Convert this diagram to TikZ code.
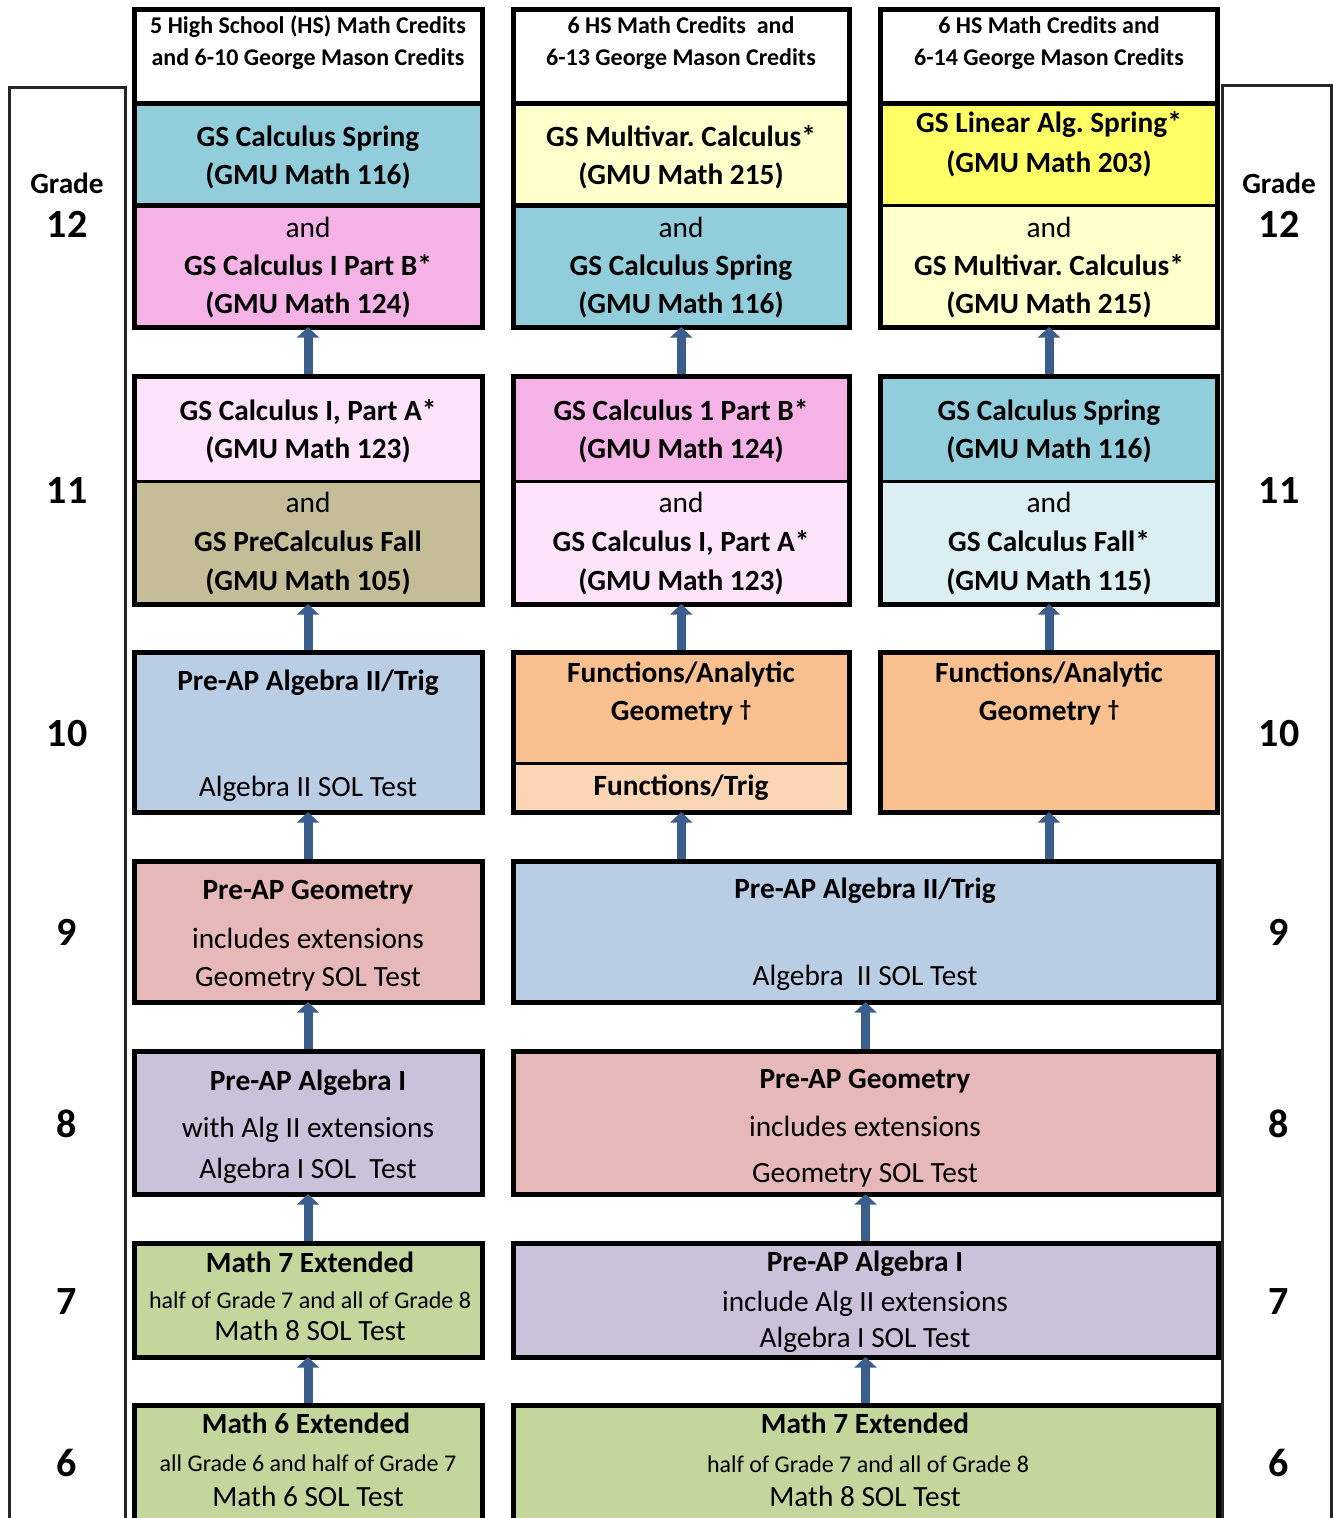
\documentclass[tikz,border=0pt]{standalone}
\usepackage{fontspec}
\setmainfont{Carlito}
\usetikzlibrary{arrows.meta,fit}
\definecolor{calcspring}{HTML}{92CDDC}
\definecolor{calcb}{HTML}{F5B2E6}
\definecolor{calca}{HTML}{FDE3FA}
\definecolor{precalc}{HTML}{C4BD97}
\definecolor{multivar}{HTML}{FFFFCC}
\definecolor{linalg}{HTML}{FFFF66}
\definecolor{calcfall}{HTML}{DAEEF3}
\definecolor{algtwo}{HTML}{B9CDE5}
\definecolor{funcgeo}{HTML}{F9C08F}
\definecolor{functrig}{HTML}{FCD5B5}
\definecolor{geompink}{HTML}{E6B9B8}
\definecolor{algone}{HTML}{CCC1DA}
\definecolor{mathext}{HTML}{C3D69B}
\definecolor{arrowblue}{HTML}{3B5E8C}
\tikzset{
    part/.style={inner sep=0pt, outer sep=0pt},
    course/.style={draw, line width=3.75pt, inner sep=0pt, outer sep=0pt},
    gradecol/.style={draw=black!85, line width=2.25pt, inner sep=0pt, outer sep=0pt},
    septhick/.style={line width=3.75pt},
    septhin/.style={line width=2.25pt},
    climb/.style={-{Triangle[width=16.5pt,length=8pt]}, line width=6.75pt, draw=arrowblue, fill=arrowblue, shorten <=1.8pt},
    hdr/.style={font=\fontsize{18}{20}\selectfont\bfseries, anchor=base, inner sep=0pt},
    small/.style={font=\fontsize{18}{20}\selectfont, anchor=base, inner sep=0pt},
    bigb/.style={font=\fontsize{22}{26}\selectfont\bfseries, anchor=base, inner sep=0pt},
    big/.style={font=\fontsize{22}{26}\selectfont, anchor=base, inner sep=0pt},
    gradeword/.style={font=\fontsize{22}{26}\selectfont\bfseries, anchor=base, inner sep=0pt},
    gradenum/.style={font=\fontsize{30}{34}\selectfont\bfseries, anchor=base, inner sep=0pt}
}
\newcommand{\daggermark}{\raisebox{3pt}{\fontsize{17}{17}\selectfont †}}
\frenchspacing
\begin{document}
        \begin{tikzpicture}[x=0.75pt, y=-0.75pt]
            \clip (0,0) rectangle (1333,1518);
            \node[gradecol, fit={(9.5,87) (125,1540)}] (leftcol) {};
            \node[gradecol, fit={(1222,85) (1331,1540)}] (rightcol) {};

            \node[part, fill=white, fit={(134,9.5) (482,103)}] (c1hd) {};
            \node[part, fill=calcspring, fit={(134,103) (482,205)}] (c1g12a) {};
            \node[part, fill=calcb, fit={(134,205) (482,327)}] (c1g12b) {};
            \draw[septhick] (c1g12a.north west) -- (c1g12a.north east);
            \draw[septhick] (c1g12b.north west) -- (c1g12b.north east);
            \node[course, fit={(134,9.5) (482,327)}] (c1g12) {};

            \node[part, fill=white, fit={(513,9.5) (849.5,103)}] (c2hd) {};
            \node[part, fill=multivar, fit={(513,103) (849.5,205)}] (c2g12a) {};
            \node[part, fill=calcspring, fit={(513,205) (849.5,327)}] (c2g12b) {};
            \draw[septhick] (c2g12a.north west) -- (c2g12a.north east);
            \draw[septhick] (c2g12b.north west) -- (c2g12b.north east);
            \node[course, fit={(513,9.5) (849.5,327)}] (c2g12) {};

            \node[part, fill=white, fit={(880.5,9.5) (1217.5,103)}] (c3hd) {};
            \node[part, fill=linalg, fit={(880.5,103) (1217.5,205)}] (c3g12a) {};
            \node[part, fill=multivar, fit={(880.5,205) (1217.5,327)}] (c3g12b) {};
            \draw[septhick] (c3g12a.north west) -- (c3g12a.north east);
            \draw[septhin] (c3g12b.north west) -- (c3g12b.north east);
            \node[course, fit={(880.5,9.5) (1217.5,327)}] (c3g12) {};

            \node[part, fill=calca, fit={(134,376) (482,481)}] (c1g11a) {};
            \node[part, fill=precalc, fit={(134,481) (482,604)}] (c1g11b) {};
            \draw[septhin] (c1g11b.north west) -- (c1g11b.north east);
            \node[course, fit={(134,376) (482,604)}] (c1g11) {};

            \node[part, fill=calcb, fit={(513,376) (849.5,481)}] (c2g11a) {};
            \node[part, fill=calca, fit={(513,481) (849.5,604)}] (c2g11b) {};
            \draw[septhin] (c2g11b.north west) -- (c2g11b.north east);
            \node[course, fit={(513,376) (849.5,604)}] (c2g11) {};

            \node[part, fill=calcspring, fit={(880.5,376) (1217.5,481)}] (c3g11a) {};
            \node[part, fill=calcfall, fit={(880.5,481) (1217.5,604)}] (c3g11b) {};
            \draw[septhin] (c3g11b.north west) -- (c3g11b.north east);
            \node[course, fit={(880.5,376) (1217.5,604)}] (c3g11) {};

            \node[course, fill=algtwo, fit={(134,652) (482,812)}] (c1g10) {};
            \node[part, fill=funcgeo, fit={(513,652) (849.5,763)}] (c2g10a) {};
            \node[part, fill=functrig, fit={(513,763) (849.5,812)}] (c2g10b) {};
            \draw[septhin] (c2g10b.north west) -- (c2g10b.north east);
            \node[course, fit={(513,652) (849.5,812)}] (c2g10) {};
            \node[course, fill=funcgeo, fit={(880.5,652) (1217.5,812)}] (c3g10) {};

            \node[course, fill=geompink, fit={(134,861) (482,1002)}] (c1g9) {};
            \node[course, fill=algtwo, fit={(513,861) (1218,1002)}] (wg9) {};
            \node[course, fill=algone, fit={(134,1051) (482,1194)}] (c1g8) {};
            \node[course, fill=geompink, fit={(513,1051) (1218,1194)}] (wg8) {};
            \node[course, fill=mathext, fit={(134,1243) (482,1357)}] (c1g7) {};
            \node[course, fill=algone, fit={(513,1243) (1218,1357)}] (wg7) {};
            \node[course, fill=mathext, fit={(134,1405) (482,1540)}] (c1g6) {};
            \node[course, fill=mathext, fit={(513,1405) (1218,1540)}] (wg6) {};

            \draw[climb] (c1g6.north) -- (c1g7.south);
            \draw[climb] (c1g7.north) -- (c1g8.south);
            \draw[climb] (c1g8.north) -- (c1g9.south);
            \draw[climb] (c1g9.north) -- (c1g10.south);
            \draw[climb] (c1g10.north) -- (c1g11.south);
            \draw[climb] (c1g11.north) -- (c1g12.south);
            \draw[climb] (wg6.north) -- (wg7.south);
            \draw[climb] (wg7.north) -- (wg8.south);
            \draw[climb] (wg8.north) -- (wg9.south);
            \draw[climb] (c2g10.south |- wg9.north) -- (c2g10.south);
            \draw[climb] (c3g10.south |- wg9.north) -- (c3g10.south);
            \draw[climb] (c2g10.north) -- (c2g11.south);
            \draw[climb] (c2g11.north) -- (c2g12.south);
            \draw[climb] (c3g10.north) -- (c3g11.south);
            \draw[climb] (c3g11.north) -- (c3g12.south);

            \node[hdr] (c1hdl1) at (308,33) {5 High School (HS) Math Credits};
            \node[hdr] (c1hdl2) at (308,65) {and 6-10 George Mason Credits};
            \node[hdr] (c2hdl1) at (681,33) {6 HS Math Credits\ \ and};
            \node[hdr] (c2hdl2) at (681,65) {6-13 George Mason Credits};
            \node[hdr] (c3hdl1) at (1049,33) {6 HS Math Credits and};
            \node[hdr] (c3hdl2) at (1049,65) {6-14 George Mason Credits};

            \node[bigb] (c1g12l1) at (308,146) {GS Calculus Spring};
            \node[bigb] (c1g12l2) at (308,184) {(GMU Math 116)};
            \node[big] (c1g12l3) at (308,237) {and};
            \node[bigb] (c1g12l4) at (308,275) {GS Calculus I Part B*};
            \node[bigb] (c1g12l5) at (308,313) {(GMU Math 124)};
            \node[bigb] (c2g12l1) at (681,146) {GS Multivar. Calculus*};
            \node[bigb] (c2g12l2) at (681,184) {(GMU Math 215)};
            \node[big] (c2g12l3) at (681,237) {and};
            \node[bigb] (c2g12l4) at (681,275) {GS Calculus Spring};
            \node[bigb] (c2g12l5) at (681,313) {(GMU Math 116)};
            \node[bigb] (c3g12l1) at (1049,132) {GS Linear Alg. Spring*};
            \node[bigb] (c3g12l2) at (1049,172) {(GMU Math 203)};
            \node[big] (c3g12l3) at (1049,237) {and};
            \node[bigb] (c3g12l4) at (1049,275) {GS Multivar. Calculus*};
            \node[bigb] (c3g12l5) at (1049,313) {(GMU Math 215)};

            \node[bigb] (c1g11l1) at (308,420) {GS Calculus I, Part A*};
            \node[bigb] (c1g11l2) at (308,458) {(GMU Math 123)};
            \node[big] (c1g11l3) at (308,512) {and};
            \node[bigb] (c1g11l4) at (308,551) {GS PreCalculus Fall};
            \node[bigb] (c1g11l5) at (308,590) {(GMU Math 105)};
            \node[bigb] (c2g11l1) at (681,420) {GS Calculus 1 Part B*};
            \node[bigb] (c2g11l2) at (681,458) {(GMU Math 124)};
            \node[big] (c2g11l3) at (681,512) {and};
            \node[bigb] (c2g11l4) at (681,551) {GS Calculus I, Part A*};
            \node[bigb] (c2g11l5) at (681,590) {(GMU Math 123)};
            \node[bigb] (c3g11l1) at (1049,420) {GS Calculus Spring};
            \node[bigb] (c3g11l2) at (1049,458) {(GMU Math 116)};
            \node[big] (c3g11l3) at (1049,512) {and};
            \node[bigb] (c3g11l4) at (1049,551) {GS Calculus Fall*};
            \node[bigb] (c3g11l5) at (1049,590) {(GMU Math 115)};

            \node[bigb] (c1g10l1) at (308,690) {Pre-AP Algebra II/Trig};
            \node[big] (c1g10l2) at (308,796) {Algebra II SOL Test};
            \node[bigb] (c2g10l1) at (681,682) {Functions/Analytic};
            \node[bigb] (c2g10l2) at (681,720) {Geometry \daggermark};
            \node[bigb] (c2g10l3) at (681,795) {Functions/Trig};
            \node[bigb] (c3g10l1) at (1049,682) {Functions/Analytic};
            \node[bigb] (c3g10l2) at (1049,720) {Geometry \daggermark};

            \node[bigb] (c1g9l1) at (308,899) {Pre-AP Geometry};
            \node[big] (c1g9l2) at (308,948) {includes extensions};
            \node[big] (c1g9l3) at (308,986) {Geometry SOL Test};
            \node[bigb] (wg9l1) at (865,898) {Pre-AP Algebra II/Trig};
            \node[big] (wg9l2) at (865,985) {Algebra\ \ II SOL Test};

            \node[bigb] (c1g8l1) at (308,1090) {Pre-AP Algebra I};
            \node[big] (c1g8l2) at (308,1137) {with Alg II extensions};
            \node[big] (c1g8l3) at (308,1178) {Algebra I SOL\ \ Test};
            \node[bigb] (wg8l1) at (865,1088) {Pre-AP Geometry};
            \node[big] (wg8l2) at (865,1136) {includes extensions};
            \node[big] (wg8l3) at (865,1182) {Geometry SOL Test};

            \node[bigb] (c1g7l1) at (310,1272) {Math 7 Extended};
            \node[small] (c1g7l2) at (310,1308) {half of Grade 7 and all of Grade 8};
            \node[big] (c1g7l3) at (310,1340) {Math 8 SOL Test};
            \node[bigb] (wg7l1) at (865,1271) {Pre-AP Algebra I};
            \node[big] (wg7l2) at (865,1311) {include Alg II extensions};
            \node[big] (wg7l3) at (865,1347) {Algebra I SOL Test};

            \node[bigb] (c1g6l1) at (306,1433) {Math 6 Extended};
            \node[small] (c1g6l2) at (308,1471) {all Grade 6 and half of Grade 7};
            \node[big] (c1g6l3) at (308,1506) {Math 6 SOL Test};
            \node[bigb] (wg6l1) at (865,1433) {Math 7 Extended};
            \node[small] (wg6l2) at (868,1472) {half of Grade 7 and all of Grade 8};
            \node[big] (wg6l3) at (865,1506) {Math 8 SOL Test};

            \node[gradeword] (lgw) at (67,193) {Grade};
            \node[gradenum] (lg12) at (67,237) {12};
            \node[gradenum] (lg11) at (67,503) {11};
            \node[gradenum] (lg10) at (67,746) {10};
            \node[gradenum] (lg9) at (67,945) {9};
            \node[gradenum] (lg8) at (67,1137) {8};
            \node[gradenum] (lg7) at (67,1314) {7};
            \node[gradenum] (lg6) at (67,1476) {6};
            \node[gradeword] (rgw) at (1279,193) {Grade};
            \node[gradenum] (rg12) at (1279,237) {12};
            \node[gradenum] (rg11) at (1279,503) {11};
            \node[gradenum] (rg10) at (1279,746) {10};
            \node[gradenum] (rg9) at (1279,945) {9};
            \node[gradenum] (rg8) at (1279,1137) {8};
            \node[gradenum] (rg7) at (1279,1314) {7};
            \node[gradenum] (rg6) at (1279,1476) {6};
        \end{tikzpicture}
\end{document}
